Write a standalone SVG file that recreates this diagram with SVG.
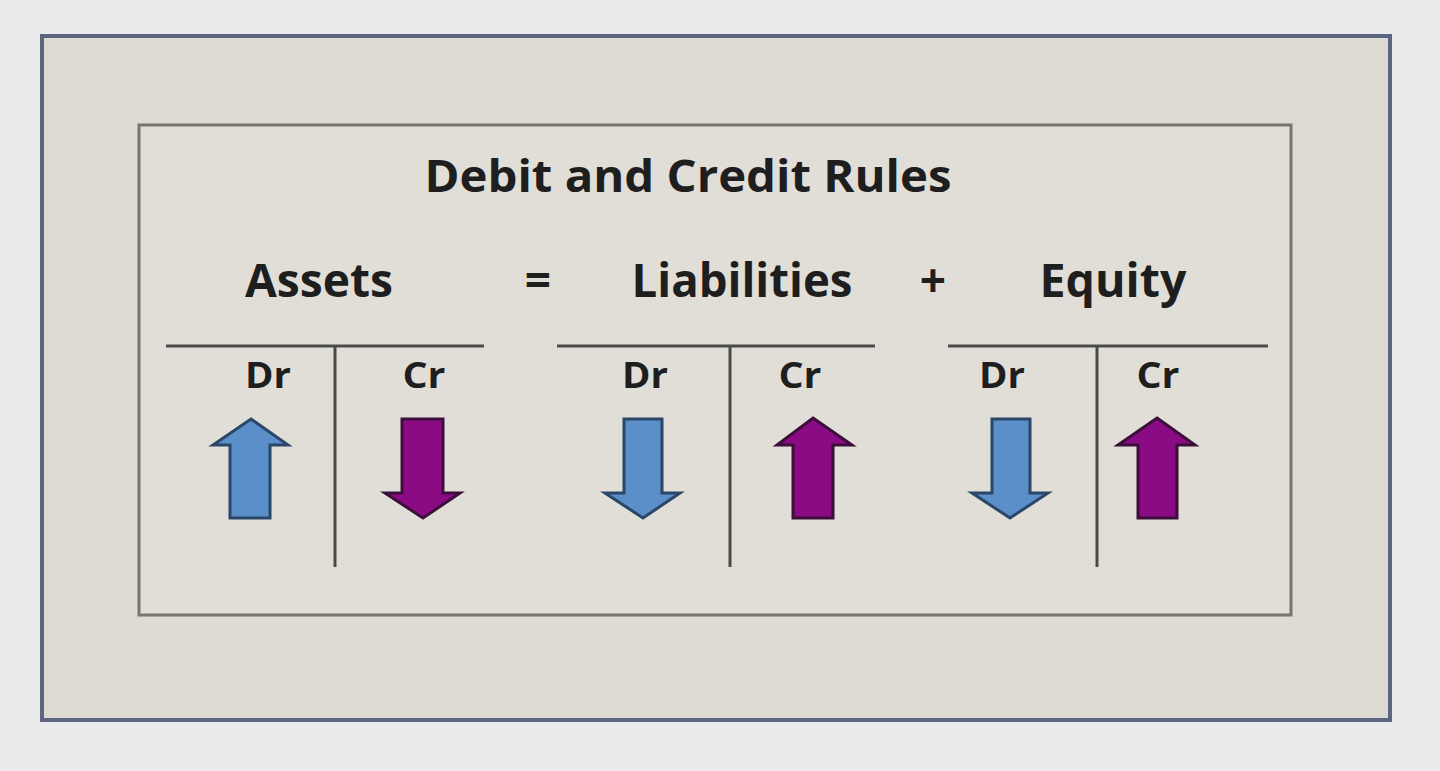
<svg xmlns="http://www.w3.org/2000/svg" width="1440" height="771" viewBox="0 0 1440 771">
<style>
.t{font-family:"Open Sans","Liberation Sans",sans-serif;font-weight:bold;fill:#1e1e1e;text-anchor:middle}
.big{font-size:46px}
.dc{font-size:35px}
.line{stroke:#4a4a48;stroke-width:3;fill:none}
.blue{fill:#5b8fca;stroke:#2b4768;stroke-width:3;stroke-linejoin:miter}
.purple{fill:#8b0b85;stroke:#3c0f3a;stroke-width:3;stroke-linejoin:miter}
</style>
<rect x="0" y="0" width="1440" height="771" fill="#ebebed"/>
<g id="frame">
<rect x="42" y="36" width="1348" height="684" fill="#dedbd4" stroke="#5c6680" stroke-width="4"/>
<rect x="139" y="125" width="1152" height="490" fill="#e1ded8" stroke="#77756e" stroke-width="3"/>
</g>
<g id="title"><text class="t" x="688" y="192" font-size="44" textLength="527" lengthAdjust="spacingAndGlyphs">Debit and Credit Rules</text></g>
<g id="equation">
<text class="t big" x="319" y="297" textLength="148" lengthAdjust="spacingAndGlyphs">Assets</text>
<text class="t big" x="538" y="297">=</text>
<text class="t big" x="742" y="297" textLength="221" lengthAdjust="spacingAndGlyphs">Liabilities</text>
<text class="t big" x="933" y="297">+</text>
<text class="t big" x="1113" y="297" textLength="147" lengthAdjust="spacingAndGlyphs">Equity</text>
</g>
<g id="assets-account">
<path class="line" d="M166 346H484M335 346V567"/>
<text class="t dc" x="268" y="388" textLength="46" lengthAdjust="spacingAndGlyphs">Dr</text>
<text class="t dc" x="424" y="388" textLength="43" lengthAdjust="spacingAndGlyphs">Cr</text>
<path class="blue" d="M251 419L288 445H270V518H230V445H213Z"/>
<path class="purple" d="M402 419H443V493H460L423 518L385 493H402Z"/>
</g>
<g id="liabilities-account">
<path class="line" d="M557 346H875M730 346V567"/>
<text class="t dc" x="645" y="388" textLength="46" lengthAdjust="spacingAndGlyphs">Dr</text>
<text class="t dc" x="800" y="388" textLength="43" lengthAdjust="spacingAndGlyphs">Cr</text>
<path class="blue" d="M624 419H662V493H680L643 518L605 493H624Z"/>
<path class="purple" d="M813 418L852 445H833V518H793V445H777Z"/>
</g>
<g id="equity-account">
<path class="line" d="M948 346H1268M1097 346V567"/>
<text class="t dc" x="1002" y="388" textLength="46" lengthAdjust="spacingAndGlyphs">Dr</text>
<text class="t dc" x="1158" y="388" textLength="43" lengthAdjust="spacingAndGlyphs">Cr</text>
<path class="blue" d="M992 419H1030V493H1048L1010 518L972 493H992Z"/>
<path class="purple" d="M1157 418L1195 445H1177V518H1138V445H1118Z"/>
</g>
</svg>
